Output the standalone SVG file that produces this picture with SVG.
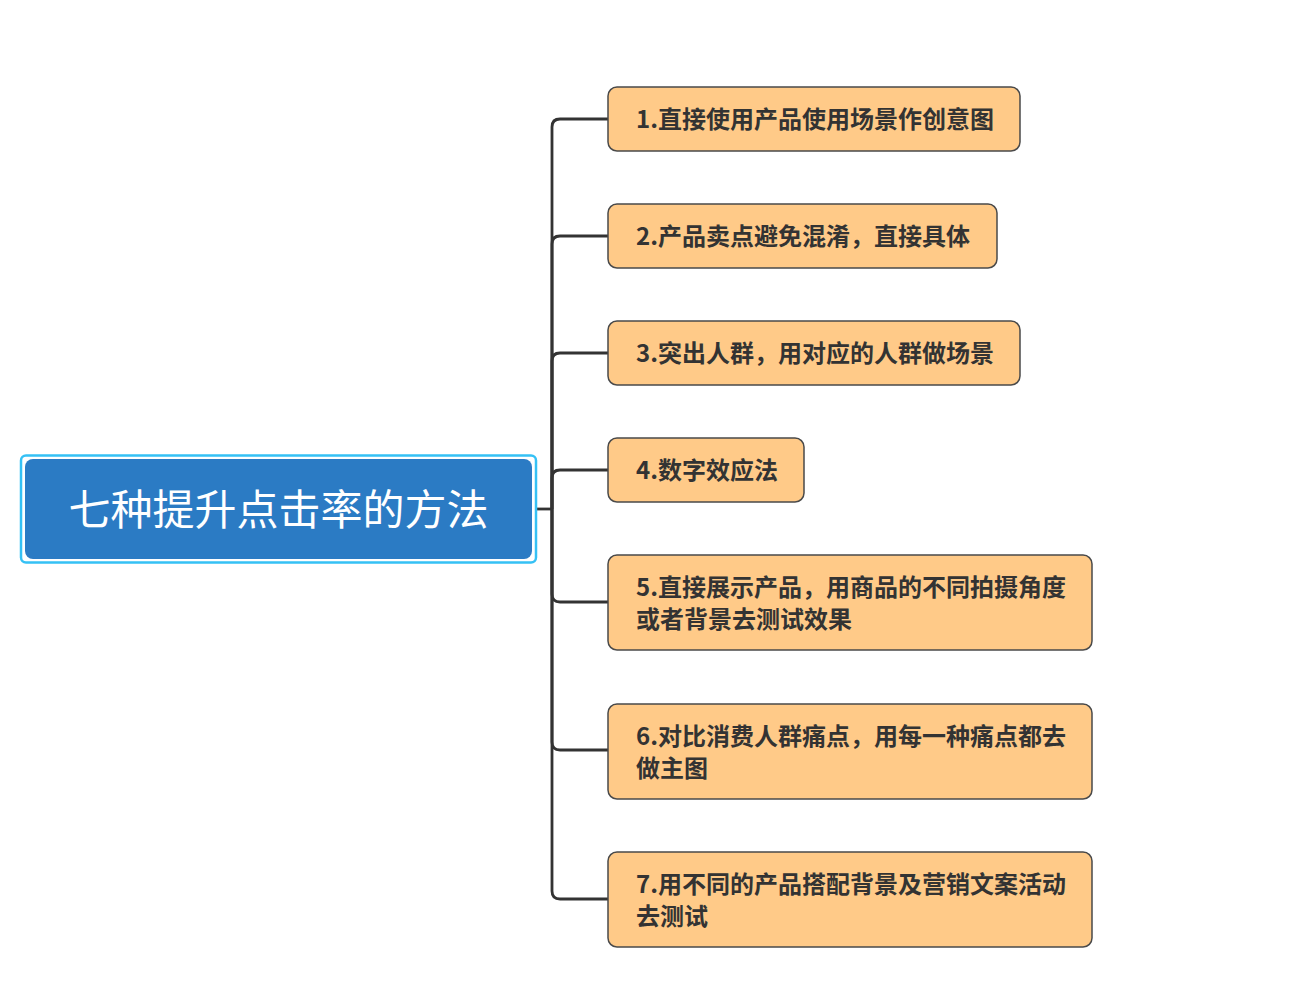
<svg xmlns="http://www.w3.org/2000/svg" width="1308" height="992" viewBox="0 0 1308 992">
<style>
.node rect{fill:#FFCA88;stroke:#4a4a4a;stroke-width:1.5}
.node text{font-family:"Noto Sans CJK SC","Microsoft YaHei",sans-serif;font-size:24px;font-weight:bold;fill:#333}
.conn path{fill:none;stroke:#333;stroke-width:2.8}
</style>
<rect width="1308" height="992" fill="#fff"/>
<g class="conn" id="connectors">
<path d="M536 509 H552"/>
<path d="M552 509 V127 Q552 119 560 119 H608"/>
<path d="M552 509 V244 Q552 236 560 236 H608"/>
<path d="M552 509 V361 Q552 353 560 353 H608"/>
<path d="M552 509 V478 Q552 470 560 470 H608"/>
<path d="M552 509 V594 Q552 602 560 602 H608"/>
<path d="M552 509 V742 Q552 750 560 750 H608"/>
<path d="M552 509 V891 Q552 899 560 899 H608"/>
</g>
<g id="root">
<rect x="21" y="455.5" width="515" height="107" rx="5" fill="#fff" stroke="#35C1F5" stroke-width="2.5"/>
<rect x="25" y="459" width="507" height="100" rx="8" fill="#2B7BC4"/>
<text x="278.5" y="525" text-anchor="middle" font-family="'Noto Sans CJK SC','Microsoft YaHei',sans-serif" font-size="42" fill="#fff">七种提升点击率的方法</text>
</g>
<g class="node" id="n1">
<rect x="608" y="87" width="412" height="64" rx="9"/>
<text x="636" y="127.5">1.直接使用产品使用场景作创意图</text>
</g>
<g class="node" id="n2">
<rect x="608" y="204" width="389" height="64" rx="9"/>
<text x="636" y="244.5">2.产品卖点避免混淆，直接具体</text>
</g>
<g class="node" id="n3">
<rect x="608" y="321" width="412" height="64" rx="9"/>
<text x="636" y="361.5">3.突出人群，用对应的人群做场景</text>
</g>
<g class="node" id="n4">
<rect x="608" y="438" width="196" height="64" rx="9"/>
<text x="636" y="478.5">4.数字效应法</text>
</g>
<g class="node" id="n5">
<rect x="608" y="555" width="484" height="95" rx="9"/>
<text x="636" y="595.5">5.直接展示产品，用商品的不同拍摄角度</text>
<text x="636" y="627.5">或者背景去测试效果</text>
</g>
<g class="node" id="n6">
<rect x="608" y="704" width="484" height="95" rx="9"/>
<text x="636" y="744.5">6.对比消费人群痛点，用每一种痛点都去</text>
<text x="636" y="776.5">做主图</text>
</g>
<g class="node" id="n7">
<rect x="608" y="852" width="484" height="95" rx="9"/>
<text x="636" y="892.5">7.用不同的产品搭配背景及营销文案活动</text>
<text x="636" y="924.5">去测试</text>
</g>
</svg>
